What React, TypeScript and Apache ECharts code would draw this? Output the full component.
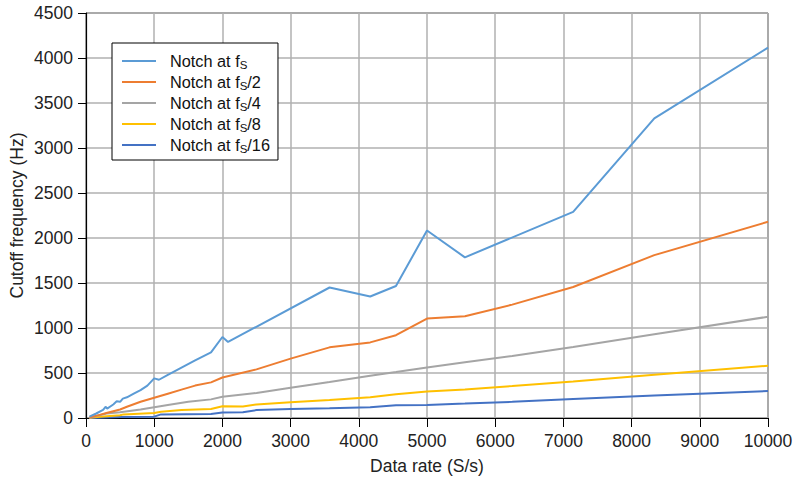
import React, { useEffect, useRef } from "react";
import * as echarts from "echarts";

const xTicks = [0, 10000, 1000];
const yTicks = [0, 4500, 500];

const seriesNames = ["fs", "fs/2", "fs/4", "fs/8", "fs/16"];
const seriesSuffix = ["", "/2", "/4", "/8", "/16"];
const seriesColors = ["#5b9bd5", "#ed7d31", "#a5a5a5", "#ffc000", "#4472c4"];

const rateFs = [50, 150, 250, 290, 310, 400, 450, 500, 540, 600, 700, 800, 900, 1000, 1070, 1200, 1400, 1600, 1833, 2000, 2083, 3571, 4167, 4545, 5000, 5556, 7143, 8333, 10000];
const cutFs = [15, 50, 90, 125, 105, 150, 185, 180, 215, 230, 270, 310, 360, 440, 425, 480, 560, 640, 730, 900, 845, 1450, 1350, 1467, 2083, 1785, 2290, 3330, 4115];

const rateFs2 = [50, 200, 300, 400, 500, 600, 800, 1000, 1200, 1400, 1600, 1833, 2000, 2500, 3000, 3571, 4167, 4545, 5000, 5556, 6250, 7143, 8333, 10000];
const cutFs2 = [5, 35, 55, 75, 95, 125, 180, 225, 270, 315, 360, 396, 450, 540, 660, 785, 840, 920, 1105, 1130, 1260, 1455, 1810, 2180];

const rateFs4 = [50, 300, 500, 800, 1000, 1200, 1500, 1833, 2000, 2500, 3000, 3571, 4167, 4545, 5000, 5556, 6250, 7143, 8333, 10000];
const cutFs4 = [3, 50, 65, 95, 120, 145, 180, 207, 235, 278, 335, 400, 470, 510, 560, 620, 690, 790, 930, 1125];

const rateFs8 = [50, 200, 500, 550, 1000, 1100, 1400, 1833, 2000, 2300, 2500, 3000, 3571, 4167, 4545, 5000, 5556, 6250, 7143, 8333, 10000];
const cutFs8 = [2, 15, 30, 40, 55, 70, 90, 100, 130, 128, 150, 175, 200, 230, 265, 295, 318, 355, 405, 480, 580];

const rateFs16 = [50, 500, 1000, 1100, 1833, 2000, 2300, 2500, 3000, 3571, 4167, 4545, 5000, 5556, 6250, 7143, 8333, 10000];
const cutFs16 = [1, 10, 15, 40, 45, 60, 65, 88, 100, 107, 120, 142, 145, 160, 180, 210, 250, 300];

const rates = [rateFs, rateFs2, rateFs4, rateFs8, rateFs16];
const cuts = [cutFs, cutFs2, cutFs4, cutFs8, cutFs16];

const FONT = "'Liberation Sans', Arial, Helvetica, sans-serif";

export default function App() {
  const ref = useRef<HTMLDivElement>(null);
  useEffect(() => {
    if (!ref.current) return;
    const chart = echarts.init(ref.current, null, { renderer: "svg" });
    const series = seriesNames.map((name, i) => ({
      name,
      type: "line",
      data: rates[i].map((r, j) => [r, cuts[i][j]]),
      showSymbol: false,
      symbol: "none",
      lineStyle: { color: seriesColors[i], width: 2 },
      itemStyle: { color: seriesColors[i] },
      z: 10 - i,
    }));
    chart.setOption({
      animation: false,
      textStyle: { fontFamily: FONT },
      grid: {
        left: 86,
        right: 28,
        top: 13,
        bottom: 61,
        containLabel: false,
        outerBoundsMode: "none",
        show: true,
        borderColor: "#333",
        borderWidth: 1,
        backgroundColor: "transparent",
      },
      legend: {
        orient: "vertical",
        left: 112,
        top: 43,
        padding: [8, 8, 5, 10],
        itemGap: 1,
        itemWidth: 34,
        itemHeight: 2,
        icon: "rect",
        borderColor: "#000",
        borderWidth: 1,
        backgroundColor: "#fff",
        data: seriesNames,
        formatter: (name: string) => {
          const i = seriesNames.indexOf(name);
          return "{g|}{a|Notch at f}{s|S}{a|" + seriesSuffix[i] + "}";
        },
        textStyle: {
          fontFamily: FONT,
          rich: {
            g: { width: 9, lineHeight: 18 },
            a: { fontSize: 16.3, color: "#111", fontFamily: FONT, lineHeight: 18 },
            s: { fontSize: 11.5, color: "#111", fontFamily: FONT, lineHeight: 10, padding: [8, 0, 0, 0] },
          },
        },
      },
      xAxis: {
        type: "value",
        min: xTicks[0],
        max: xTicks[1],
        interval: xTicks[2],
        name: "Data rate (S/s)",
        nameLocation: "middle",
        nameGap: 39,
        nameMoveOverlap: false,
        nameTextStyle: { fontSize: 17.5, color: "#222", fontFamily: FONT },
        axisLine: { show: true, lineStyle: { color: "#000", width: 1.2 } },
        axisTick: { show: true, inside: false, length: 9, lineStyle: { color: "#000" } },
        axisLabel: { fontSize: 17.5, color: "#222", margin: 14, fontFamily: FONT, formatter: (v: number) => String(v) },
        splitLine: { show: true, lineStyle: { color: "#b0b0b0", width: 1.5 } },
      },
      yAxis: {
        type: "value",
        min: yTicks[0],
        max: yTicks[1],
        interval: yTicks[2],
        name: "Cutoff frequency (Hz)",
        nameLocation: "middle",
        nameGap: 60,
        nameMoveOverlap: false,
        nameTextStyle: { fontSize: 17.5, color: "#222", fontFamily: FONT },
        axisLine: { show: true, lineStyle: { color: "#000", width: 1.2 } },
        axisTick: { show: true, inside: false, length: 8, lineStyle: { color: "#000" } },
        axisLabel: { fontSize: 17.5, color: "#222", margin: 13, fontFamily: FONT, formatter: (v: number) => String(v) },
        splitLine: { show: true, lineStyle: { color: "#b0b0b0", width: 1.5 } },
      },
      series,
    });
    return () => chart.dispose();
  }, []);
  return <div ref={ref} style={{ position: "absolute", left: 0, top: 0, width: 796, height: 479 }} />;
}
